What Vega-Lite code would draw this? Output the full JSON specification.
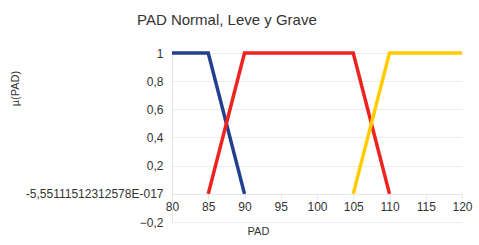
{
  "$schema": "https://vega.github.io/schema/vega-lite/v6.json",
  "autosize": "none",
  "width": 290,
  "height": 169,
  "padding": {"left": 172, "top": 53, "right": 17, "bottom": 23},
  "background": "white",
  "config": {"view": {"stroke": null}, "font": "Liberation Sans"},
  "title": {"text": "PAD Normal, Leve y Grave", "anchor": "start", "frame": "group", "dx": -35, "offset": 18, "fontSize": 15, "fontWeight": "normal", "color": "#333333", "font": "Liberation Sans"},
  "data": {"values": [
    {"serie": "Normal", "o": 1, "PAD": 80, "mu": 1},
    {"serie": "Normal", "o": 2, "PAD": 85, "mu": 1},
    {"serie": "Normal", "o": 3, "PAD": 90, "mu": 0},
    {"serie": "Leve", "o": 1, "PAD": 85, "mu": 0},
    {"serie": "Leve", "o": 2, "PAD": 90, "mu": 1},
    {"serie": "Leve", "o": 3, "PAD": 105, "mu": 1},
    {"serie": "Leve", "o": 4, "PAD": 110, "mu": 0},
    {"serie": "Grave", "o": 1, "PAD": 105, "mu": 0},
    {"serie": "Grave", "o": 2, "PAD": 110, "mu": 1},
    {"serie": "Grave", "o": 3, "PAD": 120, "mu": 1}
  ]},
  "mark": {"type": "line", "strokeWidth": 3.5, "strokeCap": "butt", "strokeJoin": "miter"},
  "encoding": {
    "x": {"field": "PAD", "type": "quantitative", "scale": {"domain": [80, 120], "nice": false, "zero": false},
      "axis": {"values": [80,85,90,95,100,105,110,115,120], "offset": -28, "grid": false, "labelFlush": false, "labelOverlap": false, "domainColor": "#e6e6e6", "tickColor": "#e6e6e6", "tickSize": 5, "labelFontSize": 12, "labelColor": "#333333", "labelPadding": 2, "title": "PAD", "titleFontSize": 11, "titleFontWeight": "normal", "titleColor": "#333333", "titleX": 86, "titleY": 31}},
    "y": {"field": "mu", "type": "quantitative", "scale": {"domain": [-0.2, 1], "nice": false, "zero": false},
      "axis": {"values": [-0.2,0,0.2,0.4,0.6,0.8,1], "labelExpr": "datum.value == 0 ? '-5,55111512312578E-017' : replace(format(datum.value, '.1~f'), '.', ',')", "grid": true, "gridColor": "#ececec", "domainColor": "#e6e6e6", "ticks": false, "labelFlush": false, "labelOverlap": false, "labelPadding": 9, "labelFontSize": 12, "labelColor": "#333333", "title": "µ(PAD)", "titleFontSize": 11, "titleFontWeight": "normal", "titleColor": "#333333", "titleX": -152, "titleY": 35, "titleAlign": "center", "titleAngle": 270}},
    "color": {"field": "serie", "type": "nominal", "scale": {"domain": ["Normal", "Leve", "Grave"], "range": ["#23408e", "#ee2320", "#ffcc00"]}, "legend": null},
    "order": {"field": "o"}
  }
}
